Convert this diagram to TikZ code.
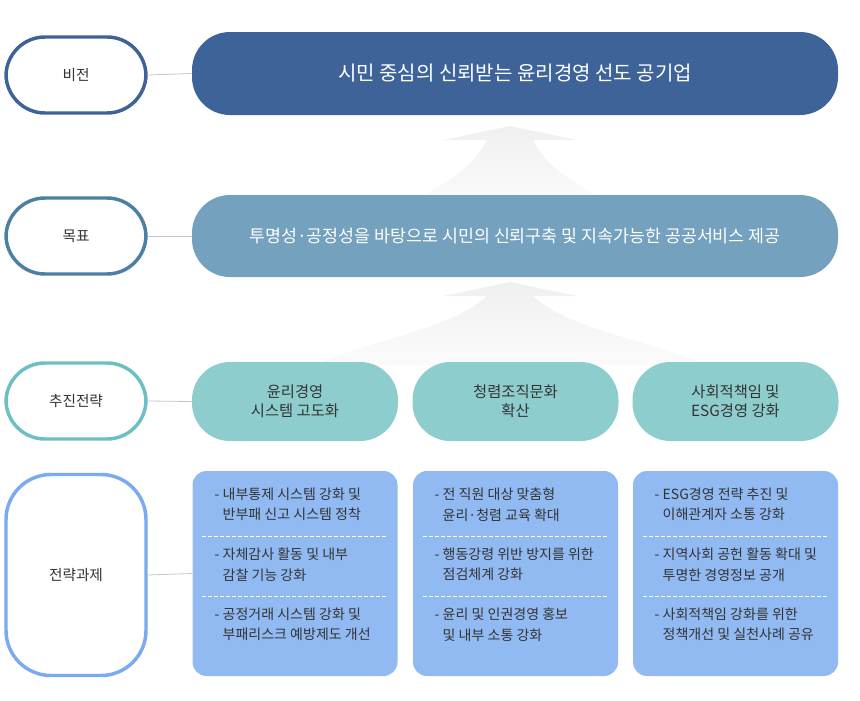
\documentclass[tikz,border=0pt]{standalone}
\usepackage{fontspec}
\setmainfont{Noto Sans CJK KR}
\usetikzlibrary{shapes.geometric,shadows}
\definecolor{cVis}{HTML}{3E6399}
\definecolor{cGoal}{HTML}{74A1BD}
\definecolor{cGoalB}{HTML}{4D7FA0}
\definecolor{cStr}{HTML}{8ECDCE}
\definecolor{cStrB}{HTML}{6CC0C4}
\definecolor{cTask}{HTML}{91BAF2}
\definecolor{cTaskB}{HTML}{7AAAF0}
\definecolor{cTxt}{HTML}{333333}
\tikzset{
  lab/.style={draw, line width=2.6pt, fill=white, rounded corners=39*0.75pt, minimum width=140*0.75pt, minimum height=76*0.75pt, font=\fontsize{11}{13}\selectfont, text=cTxt},
  pill/.style={rounded corners=38*0.75pt, text=white},
  spill/.style={fill=cStr, rounded corners=38*0.75pt, minimum width=206*0.75pt, minimum height=79*0.75pt, align=center, font=\fontsize{11.5}{14}\selectfont, text=cTxt},
  tbox/.style={fill=cTask, rounded corners=14*0.75pt, minimum width=205*0.75pt, minimum height=205*0.75pt},
  item/.style={anchor=north west, align=left, font=\fontsize{10.5}{15.5}\selectfont, text=cTxt},
  conn/.style={draw=gray!45, line width=0.6pt},
  sep/.style={draw=white, dashed, dash pattern=on 3pt off 1.5pt, line width=0.6pt}
}
\begin{document}
\begin{tikzpicture}[x=0.75pt,y=-0.75pt]
\useasboundingbox (0,0) rectangle (860,700);
% arrows
\shade[top color=gray!12, bottom color=gray!4] (510,126) -- (577,140) -- (533,140) .. controls (545,165) and (570,180) .. (595,195) -- (425,195) .. controls (450,180) and (475,165) .. (487,140) -- (443,140) -- cycle;
\shade[top color=gray!12, bottom color=gray!3] (510,282) -- (577,296) -- (533,296) .. controls (570,330) and (650,340) .. (705,365) -- (315,365) .. controls (370,340) and (450,330) .. (487,296) -- (443,296) -- cycle;
% left labels
\node[lab, draw=cVis] (l1) at (76,75) {비전};
\node[lab, draw=cGoalB] (l2) at (76,236) {목표};
\node[lab, draw=cStrB] (l3) at (76,401) {추진전략};
\node[lab, draw=cTaskB, minimum height=201*0.75pt, rounded corners=45*0.75pt] (l4) at (76,575) {전략과제};
% bars
\node[pill, fill=cVis, minimum width=646*0.75pt, minimum height=83*0.75pt, font=\fontsize{15}{18}\selectfont] (vis) at (515,73.5) {시민 중심의 신뢰받는 윤리경영 선도 공기업};
\node[pill, fill=cGoal, minimum width=646*0.75pt, minimum height=82*0.75pt, font=\fontsize{13}{16}\selectfont] (goal) at (515,236) {투명성·공정성을 바탕으로 시민의 신뢰구축 및 지속가능한 공공서비스 제공};
% strategy
\node[spill] (s1) at (295,401.5) {윤리경영\\시스템 고도화};
\node[spill] (s2) at (515.5,401.5) {청렴조직문화\\확산};
\node[spill] (s3) at (735.5,401.5) {사회적책임 및\\ESG경영 강화};
% tasks
\node[tbox] (t1) at (295,573.5) {};
\node[tbox] (t2) at (515.5,573.5) {};
\node[tbox] (t3) at (735.5,573.5) {};
% connectors
\draw[conn] (l1.east) -- (vis.west);
\draw[conn] (l2.east) -- (goal.west);
\draw[conn] (l3.east) -- (s1.west);
\draw[conn] (l4.east) -- (t1.west);
% separators
\foreach \t in {t1,t2,t3}{
  \draw[sep] ([xshift=10*0.75pt,yshift=-66*0.75pt]\t.north west) -- ([xshift=-10*0.75pt,yshift=-66*0.75pt]\t.north east);
  \draw[sep] ([xshift=10*0.75pt,yshift=-126*0.75pt]\t.north west) -- ([xshift=-10*0.75pt,yshift=-126*0.75pt]\t.north east);
}
% items
\node[item] (a1) at (210,483) {- 내부통제 시스템 강화 및\\\phantom{- }반부패 신고 시스템 정착};
\node[item] (a2) at (210,543) {- 자체감사 활동 및 내부\\\phantom{- }감찰 기능 강화};
\node[item] (a3) at (210,603) {- 공정거래 시스템 강화 및\\\phantom{- }부패리스크 예방제도 개선};
\node[item] (b1) at (430,483) {- 전 직원 대상 맞춤형\\\phantom{- }윤리·청렴 교육 확대};
\node[item] (b2) at (430,543) {- 행동강령 위반 방지를 위한\\\phantom{- }점검체계 강화};
\node[item] (b3) at (430,603) {- 윤리 및 인권경영 홍보\\\phantom{- }및 내부 소통 강화};
\node[item] (c1) at (650,483) {- ESG경영 전략 추진 및\\\phantom{- }이해관계자 소통 강화};
\node[item] (c2) at (650,543) {- 지역사회 공헌 활동 확대 및\\\phantom{- }투명한 경영정보 공개};
\node[item] (c3) at (650,603) {- 사회적책임 강화를 위한\\\phantom{- }정책개선 및 실천사례 공유};
\end{tikzpicture}
\end{document}
